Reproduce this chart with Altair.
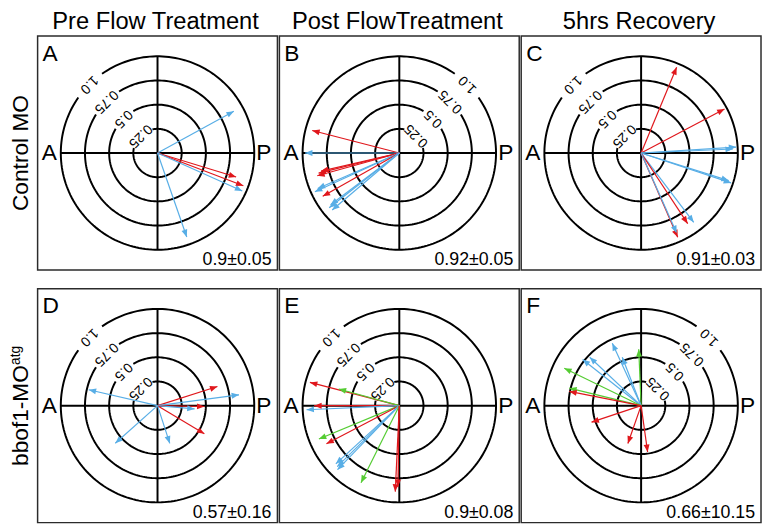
import altair as alt
import numpy as np
import pandas as pd

FONT = "Liberation Sans"
UNIT = 98.0                 # pixels for a vector length of 1.0
PANEL_W, PANEL_H = 243, 237
COLORS = {"b": "#58AEE6", "r": "#E0171C", "g": "#55CC33"}

# ---------------- text content ----------------
col_titles = ["Pre Flow Treatment", "Post FlowTreatment", "5hrs Recovery"]
row_titles = ["Control MO", "bbof1-MO"]
row_sups = ["", "atg"]
letters = ["A", "B", "C", "D", "E", "F"]
stats = ["0.9±0.05", "0.92±0.05", "0.91±0.03", "0.57±0.16", "0.9±0.08", "0.66±10.15"]
ring_values = [0.25, 0.5, 0.75, 1.0]
ring_text = ["0.25", "0.5", "0.75", "1.0"]

# ---------------- vectors (angle deg from P, counter-clockwise; length) ----------------
A_ang = [28.7, -17.0, -20.9, -24.1, -70.8]
A_len = [0.90, 0.85, 0.95, 0.96, 0.92]
A_col = ["b", "r", "r", "b", "b"]

B_ang = [165.5, 180.0, 195.5, 194.0, 193.0, 204.6, 203.5, 209.5, 218.0, 220.3, 217.0]
B_len = [0.93, 0.975, 0.88, 0.86, 0.83, 0.96, 0.92, 0.91, 0.92, 0.91, 0.89]
B_col = ["r", "b", "r", "r", "r", "b", "b", "r", "b", "b", "b"]

C_ang = [67.5, 27.8, 3.6, 2.5, -18.4, -17.5, -52.8, -56.6, -66.5, -66.0]
C_len = [0.96, 0.975, 0.985, 0.95, 0.98, 0.95, 0.90, 0.875, 0.95, 0.905]
C_col = ["r", "r", "b", "b", "b", "b", "b", "r", "r", "b"]

D_ang = [167.0, 17.7, 7.6, -1.0, -5.0, -31.0, -72.0, 221.7]
D_len = [0.73, 0.65, 0.85, 0.485, 0.385, 0.565, 0.41, 0.585]
D_col = ["b", "r", "b", "r", "b", "r", "b", "b"]

E_ang = [165.4, 164.6, 180.0, 182.5, 202.5, 207.6, 222.5, 224.5, 226.0, 243.6, 267.3, 269.0]
E_len = [0.955, 0.65, 0.88, 0.96, 0.90, 0.85, 0.89, 0.90, 0.92, 0.89, 0.89, 0.84]
E_col = ["r", "g", "r", "b", "g", "r", "b", "b", "b", "g", "r", "r"]

F_ang = [114.8, 92.4, 111.3, 141.7, 136.7, 154.0, 166.3, 168.8, 198.4, 250.7, 278.0]
F_len = [0.71, 0.583, 0.537, 0.77, 0.73, 0.884, 0.765, 0.757, 0.54, 0.414, 0.484]
F_col = ["b", "g", "b", "b", "b", "g", "g", "r", "r", "r", "r"]

vectors = [(A_ang, A_len, A_col), (B_ang, B_len, B_col), (C_ang, C_len, C_col),
           (D_ang, D_len, D_col), (E_ang, E_len, E_col), (F_ang, F_len, F_col)]

# ring-label placement (style): upper-left or upper-right quadrant
label_dir = [135, 45, 135, 135, 135, 45]
gap_half = [33, 15, 13, 10]   # half-width (deg) of the gap left in each ring for its label

HEAD = "M0,0L-0.6,1.5L0.6,1.5Z"
cscale = alt.Scale(domain=list(COLORS.keys()), range=list(COLORS.values()))


def panel(i):
    xh = PANEL_W / 2 / UNIT
    yh = PANEL_H / 2 / UNIT
    xs = alt.Scale(domain=[-xh, xh], nice=False, zero=False)
    ys = alt.Scale(domain=[-yh, yh], nice=False, zero=False)
    X = lambda f: alt.X(f, scale=xs, axis=None)
    Y = lambda f: alt.Y(f, scale=ys, axis=None)
    phi = label_dir[i]

    # rings (with a gap where the label sits)
    rows = []
    for r, g in zip(ring_values, gap_half):
        t = np.linspace(phi + g, phi + 360 - g, 180)
        for k, a in enumerate(t):
            rows.append({"ring": r, "k": k, "x": r * np.cos(np.radians(a)), "y": r * np.sin(np.radians(a))})
    rings = alt.Chart(pd.DataFrame(rows)).mark_line(color="black", strokeWidth=2).encode(
        x=X("x:Q"), y=Y("y:Q"), detail="ring:N", order="k:Q")

    rmax = max(ring_values)
    cross = alt.Chart(pd.DataFrame({"x": [-rmax, 0], "y": [0, -rmax], "x2": [rmax, 0], "y2": [0, rmax]})
                      ).mark_rule(color="black", strokeWidth=2).encode(x=X("x:Q"), y=Y("y:Q"), x2="x2:Q", y2="y2:Q")

    lab = pd.DataFrame({"r": ring_values, "t": ring_text})
    ring_labels = alt.Chart(lab).transform_calculate(
        lx=f"datum.r*cos({phi}*PI/180)", ly=f"datum.r*sin({phi}*PI/180)", rot=f"{(270 - phi) % 360}"
    ).mark_text(font=FONT, fontSize=14, color="black", align="center", baseline="middle").encode(
        x=X("lx:Q"), y=Y("ly:Q"), text="t:N", angle=alt.Angle("rot:Q", scale=None))

    ang, ln, col = vectors[i]
    base = alt.Chart(pd.DataFrame({"ang": ang, "len": ln, "col": col})).transform_calculate(
        px="datum.len*cos(datum.ang*PI/180)", py="datum.len*sin(datum.ang*PI/180)",
        rot="((450-datum.ang)%360+360)%360", ox="0", oy="0")
    shafts = base.mark_rule(strokeWidth=1.2).encode(
        x=X("ox:Q"), y=Y("oy:Q"), x2="px:Q", y2="py:Q",
        color=alt.Color("col:N", scale=cscale, legend=None))
    heads = base.mark_point(shape=HEAD, filled=True, size=100, opacity=1, strokeWidth=0).encode(
        x=X("px:Q"), y=Y("py:Q"), angle=alt.Angle("rot:Q", scale=None),
        color=alt.Color("col:N", scale=cscale, legend=None))

    ap = alt.Chart(pd.DataFrame({"x": [-1.12, 1.1], "y": [0, 0], "t": ["A", "P"]})).mark_text(
        font=FONT, fontSize=23, color="black", align="center", baseline="middle").encode(
        x=X("x:Q"), y=Y("y:Q"), text="t:N")

    letter = alt.Chart(pd.DataFrame({"t": [letters[i]]})).mark_text(
        font=FONT, fontSize=23, color="black", align="left", baseline="alphabetic").encode(
        x=alt.value(5), y=alt.value(25), text="t:N")

    stat = alt.Chart(pd.DataFrame({"t": [stats[i]]})).mark_text(
        font=FONT, fontSize=18, color="black", align="right", baseline="alphabetic").encode(
        x=alt.value(PANEL_W - 6), y=alt.value(PANEL_H - 5), text="t:N")

    layers = [cross, rings, ring_labels, shafts, heads, ap, letter, stat]

    if i < 3:
        ttl = alt.Chart(pd.DataFrame({"t": [col_titles[i]]})).mark_text(
            font=FONT, fontSize=24, color="black", align="center", baseline="alphabetic").encode(
            x=alt.value(PANEL_W / 2 - 2), y=alt.value(-7), text="t:N")
        layers.append(ttl)

    if i % 3 == 0:
        row = i // 3
        sup = row_sups[row]
        shift = 10 if sup else 0
        rl = alt.Chart(pd.DataFrame({"t": [row_titles[row]]})).mark_text(
            font=FONT, fontSize=23, color="black", align="center", baseline="alphabetic", angle=270).encode(
            x=alt.value(-10), y=alt.value(PANEL_H / 2 + shift), text="t:N")
        layers.append(rl)
        if sup:
            sl = alt.Chart(pd.DataFrame({"t": [sup]})).mark_text(
                font=FONT, fontSize=14, color="black", align="center", baseline="alphabetic", angle=270).encode(
                x=alt.value(-18), y=alt.value(PANEL_H / 2 - 51), text="t:N")
            layers.append(sl)

    return alt.layer(*layers).properties(width=PANEL_W, height=PANEL_H)


chart = alt.concat(*[panel(i) for i in range(6)], columns=3,
                   spacing={"row": 17, "column": 0}, align="each").properties(
    padding={"top": -2, "left": 0, "right": 0, "bottom": 0}
).configure_view(stroke="#2b2b2b", strokeWidth=1.5)

chart.save("out.html", embed_options={"renderer": "svg", "actions": False})
